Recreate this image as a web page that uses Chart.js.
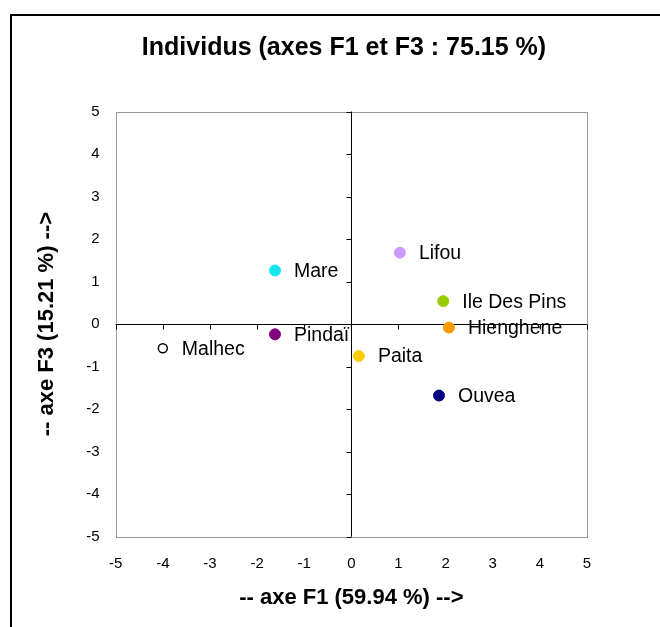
<!DOCTYPE html>
<html>
<head>
<meta charset="utf-8">
<script src="https://cdn.jsdelivr.net/npm/chart.js@4"></script>
<style>
    html, body { margin: 0; padding: 0; background: #ffffff; }
    canvas { display: block; }
</style>
</head>
<body>
<canvas id="individusChart" width="660" height="627"></canvas>
<script>
// Individus et coordonnées sur F1 / F3
const individus = ["Mare", "Pindaï", "Malhec", "Lifou", "Ile Des Pins", "Hienghene", "Paita", "Ouvea"];
const axeF1 = [-1.62, -1.62, -4.00, 1.03, 1.95, 2.07, 0.16, 1.86];
const axeF3 = [1.26, -0.24, -0.57, 1.68, 0.54, -0.08, -0.75, -1.68];
const remplissage = ["#16e6f0", "#800080", "#ffffff", "#cc99ff", "#99cc00", "#ff9900", "#ffcc00", "#000080"];
const contour = ["#16e6f0", "#800080", "#000000", "#cc99ff", "#99cc00", "#ff9900", "#ffcc00", "#000080"];
const ticksAxe = [-5, -4, -3, -2, -1, 0, 1, 2, 3, 4, 5];

document.addEventListener("DOMContentLoaded", () => {
    const ctx = document.getElementById("individusChart").getContext("2d");
    Chart.defaults.font.family = "'Liberation Sans', Arial, sans-serif";

    // cadre gris, axes passant par zéro, cadre extérieur
    const cadre = {
        id: "cadre",
        beforeDatasetsDraw(chart) {
            const { ctx, chartArea: a, scales: { x, y } } = chart;
            ctx.save();
            ctx.lineWidth = 1;
            ctx.strokeStyle = "#9a9a9a";
            ctx.strokeRect(Math.round(a.left) + 0.5, Math.round(a.top) + 0.5,
                Math.round(a.right - a.left), Math.round(a.bottom - a.top));

            const x0 = Math.round(x.getPixelForValue(0)) + 0.5;
            const y0 = Math.round(y.getPixelForValue(0)) + 0.5;
            ctx.strokeStyle = "#000000";
            ctx.beginPath();
            ctx.moveTo(x0, a.top); ctx.lineTo(x0, a.bottom);
            ctx.moveTo(a.left, y0); ctx.lineTo(a.right, y0);
            ticksAxe.forEach(v => {
                const px = Math.round(x.getPixelForValue(v)) + 0.5;
                ctx.moveTo(px, y0); ctx.lineTo(px, y0 + 5);
                const py = Math.round(y.getPixelForValue(v)) + 0.5;
                ctx.moveTo(x0 - 5, py); ctx.lineTo(x0, py);
            });
            ctx.stroke();

            ctx.lineWidth = 2;
            ctx.beginPath();
            ctx.moveTo(11, chart.height); ctx.lineTo(11, 15); ctx.lineTo(chart.width, 15);
            ctx.stroke();
            ctx.restore();
        }
    };

    // noms des individus à droite des points
    const etiquettes = {
        id: "etiquettes",
        afterDatasetsDraw(chart) {
            const { ctx } = chart;
            const meta = chart.getDatasetMeta(0);
            ctx.save();
            ctx.font = "19.5px 'Liberation Sans', Arial, sans-serif";
            ctx.fillStyle = "#000000";
            ctx.textAlign = "left";
            ctx.textBaseline = "middle";
            meta.data.forEach((pt, i) => ctx.fillText(individus[i], pt.x + 19, pt.y + 1));
            ctx.restore();
        }
    };

    const poserTicks = scale => { scale.ticks = ticksAxe.map(v => ({ value: v })); };

    new Chart(ctx, {
        type: "scatter",
        data: {
            datasets: [{
                data: individus.map((n, i) => ({ x: axeF1[i], y: axeF3[i] })),
                pointBackgroundColor: remplissage,
                pointBorderColor: contour,
                pointBorderWidth: [1, 1, 1.5, 1, 1, 1, 1, 1],
                pointRadius: [5.5, 5.5, 4.5, 5.5, 5.5, 5.5, 5.5, 5.5]
            }]
        },
        options: {
            responsive: false,
            animation: false,
            layout: { padding: { left: 28, top: 0, right: 0, bottom: 0 } },
            plugins: {
                legend: { display: false },
                tooltip: { enabled: false },
                title: {
                    display: true,
                    text: "Individus (axes F1 et F3 : 75.15 %)",
                    color: "#000000",
                    font: { size: 25, weight: "bold" },
                    padding: { top: 33, bottom: 48.5 }
                }
            },
            scales: {
                x: {
                    type: "linear",
                    min: -5,
                    max: 5,
                    afterBuildTicks: poserTicks,
                    afterFit: s => { s.height = 90.3; },
                    grid: { display: false, drawTicks: false },
                    border: { display: false },
                    ticks: { color: "#000000", font: { size: 15 }, padding: 18 },
                    title: {
                        display: true,
                        text: "-- axe F1 (59.94 %) -->",
                        color: "#000000",
                        font: { size: 22, weight: "bold" },
                        padding: { top: 0, bottom: 15.8 }
                    }
                },
                y: {
                    type: "linear",
                    min: -5,
                    max: 5,
                    afterBuildTicks: poserTicks,
                    afterFit: s => { s.width = 87.7; },
                    grid: { display: false, drawTicks: false },
                    border: { display: false },
                    ticks: { color: "#000000", font: { size: 15 }, padding: 16 },
                    title: {
                        display: true,
                        text: "-- axe F3 (15.21 %) -->",
                        color: "#000000",
                        font: { size: 22, weight: "bold" },
                        padding: { top: 5.8, bottom: 0 }
                    }
                },
                droite: {
                    type: "linear",
                    position: "right",
                    afterFit: s => { s.width = 73; },
                    grid: { display: false, drawTicks: false },
                    border: { display: false },
                    ticks: { display: false }
                }
            }
        },
        plugins: [cadre, etiquettes]
    });
});
</script>
</body>
</html>
